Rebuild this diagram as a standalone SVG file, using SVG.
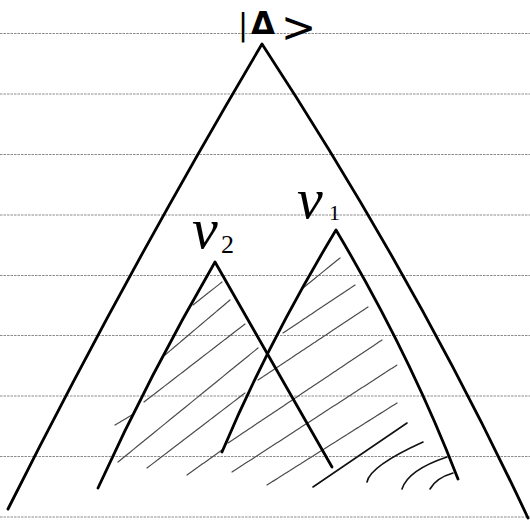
<svg xmlns="http://www.w3.org/2000/svg" width="530" height="521" viewBox="0 0 530 521">
<style>
.rule{stroke:#8c8c8c;stroke-width:1;stroke-dasharray:2.5 1}
.ink{fill:none;stroke:#000;stroke-width:2.8;stroke-linejoin:round;stroke-linecap:round}
.hatch{fill:none;stroke:#4a4a4a;stroke-width:1.2;stroke-linecap:round;stroke-dasharray:6 0.8}
.hatchd{fill:none;stroke:#111;stroke-width:1.6;stroke-linecap:round}
.lbl{font-family:"Liberation Serif",serif;font-style:italic;fill:#000}
.ket{font-family:"DejaVu Sans",sans-serif;fill:#000}
</style>
<rect width="530" height="521" fill="#fff"/>
<g id="ruling">
<line class="rule" x1="0" y1="33.5" x2="530" y2="33.5"/>
<line class="rule" x1="0" y1="94" x2="530" y2="94"/>
<line class="rule" x1="0" y1="154.5" x2="530" y2="154.5"/>
<line class="rule" x1="0" y1="215" x2="530" y2="215"/>
<line class="rule" x1="0" y1="275.5" x2="530" y2="275.5"/>
<line class="rule" x1="0" y1="335.5" x2="530" y2="335.5"/>
<line class="rule" x1="0" y1="396" x2="530" y2="396"/>
<line class="rule" x1="0" y1="456.5" x2="530" y2="456.5"/>
<line class="rule" x1="0" y1="517" x2="530" y2="517"/>
</g>
<g id="hatching">
<path class="hatch" d="M193,305 L222,282"/>
<path class="hatch" d="M165,355 L230,300"/>
<path class="hatch" d="M144,402 L245,324"/>
<path class="hatch" d="M115,425 L132,415"/>
<path class="hatch" d="M118,462 L258,348"/>
<path class="hatch" d="M147,468 L245,393"/>
<path class="hatch" d="M187,475 L222,450"/>
<path class="hatch" d="M303,288 L340,258"/>
<path class="hatch" d="M283,333 L355,285"/>
<path class="hatch" d="M258,380 L368,307"/>
<path class="hatch" d="M228,443 L382,340"/>
<path class="hatch" d="M232,472 L397,365"/>
<path class="hatch" d="M267,485 L397,403"/>
<path class="hatchd" d="M313,487 L407,423"/>
<path class="hatchd" d="M367,482 Q370,466 423,442"/>
<path class="hatchd" d="M402,489 Q408,470 447,457"/>
<path class="hatchd" d="M430,489 Q436,478 453,473"/>
</g>
<g id="tri-delta">
<path class="ink" d="M8,509 Q125,275.5 262,44 Q417,281 528,518"/>
<text class="ket" y="35"><tspan x="238" font-size="30">|</tspan><tspan x="251" y="34" font-size="31" font-weight="bold">Δ</tspan><tspan x="281" y="42" font-size="42">&gt;</tspan></text>
</g>
<g id="tri-v2">
<path class="ink" d="M98,488 Q149.5,375 215,262 L332,467"/>
<text class="lbl" x="192" y="248" font-size="58">v<tspan x="221" y="253" font-size="26" font-style="normal">2</tspan></text>
</g>
<g id="tri-v1">
<path class="ink" d="M222,452 Q269,341 336,230 Q410,354.5 458,479"/>
<text class="lbl" x="297" y="218" font-size="58">v<tspan x="329" y="220" font-size="22" font-style="normal">1</tspan></text>
</g>
</svg>
